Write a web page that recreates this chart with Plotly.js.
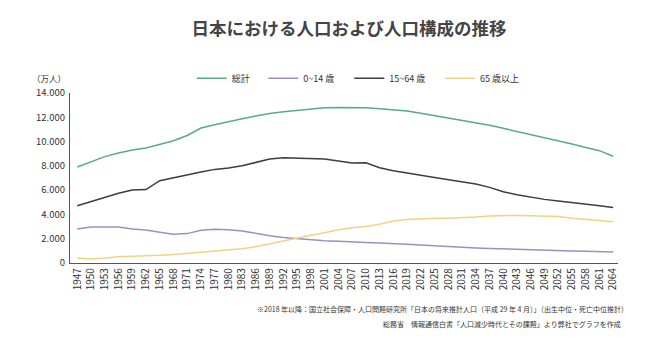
<!DOCTYPE html>
<html>
<head>
<meta charset="utf-8">
<script src="https://cdn.plot.ly/plotly-3.0.1.min.js"></script>
<style>
html,body{margin:0;padding:0;background:#fff;}
#chart{width:670px;height:350px;}
</style>
</head>
<body>
<div id="chart"></div>
<script>
var years = ["1947","1950","1953","1956","1959","1962","1965","1968","1971","1974",
             "1977","1980","1983","1986","1989","1992","1995","1998","2001","2004",
             "2007","2010","2013","2016","2019","2022","2025","2028","2031","2034",
             "2037","2040","2043","2046","2049","2052","2055","2058","2061","2064"];

var total = [7900, 8340, 8760, 9060, 9300, 9470, 9770, 10070, 10500, 11120,
             11390, 11660, 11880, 12100, 12320, 12460, 12570, 12680, 12790, 12810,
             12810, 12780, 12710, 12600, 12520, 12330, 12130, 11940, 11750, 11560,
             11340, 11090, 10840, 10570, 10320, 10050, 9800, 9520, 9250, 8790];

var age0_14 = [2800, 2965, 2965, 2965, 2800, 2720, 2530, 2360, 2420, 2690,
               2770, 2745, 2635, 2420, 2250, 2110, 2000, 1920, 1840, 1785,
               1710, 1690, 1650, 1620, 1550, 1480, 1410, 1345, 1290, 1235,
               1195, 1150, 1110, 1070, 1045, 1015, 985, 960, 935, 905];

var age15_64 = [4720, 5080, 5410, 5740, 6010, 6050, 6780, 7030, 7270, 7490,
                7710, 7820, 8010, 8260, 8560, 8670, 8650, 8620, 8560, 8400,
                8240, 8250, 7840, 7600, 7380, 7220, 7050, 6890, 6700, 6510,
                6230, 5870, 5630, 5410, 5240, 5100, 4990, 4860, 4720, 4580];

var age65 = [410, 330, 410, 520, 550, 580, 630, 710, 800, 880,
             960, 1070, 1180, 1340, 1590, 1810, 2060, 2280, 2500, 2740,
             2900, 3000, 3200, 3450, 3590, 3650, 3680, 3680, 3710, 3790,
             3870, 3920, 3920, 3900, 3870, 3820, 3680, 3570, 3460, 3400];

var seriesNames = ["総計", "0~14 歳", "15~64 歳", "65 歳以上"];
var seriesColors = ["#5aa98a", "#a48ac4", "#3d3d3d", "#f1d27f"];
var seriesData = [total, age0_14, age15_64, age65];
var legendIds = ["legend", "legend2", "legend3", "legend4"];
var legendX = [0.2221, 0.3527, 0.5097, 0.6752];

var FONT = "'Noto Sans CJK JP', 'Noto Sans', sans-serif";

var traces = seriesData.map(function(d, k){
  return {
    type: "scatter", mode: "lines",
    x: years, y: d, name: seriesNames[k],
    legend: legendIds[k],
    line: {color: seriesColors[k], width: 1.5},
    hoverinfo: "x+y+name"
  };
});

var layout = {
  width: 670, height: 350,
  margin: {l: 70, r: 52, t: 93, b: 87, pad: 0},
  paper_bgcolor: "#ffffff", plot_bgcolor: "#ffffff",
  separators: ",.",
  font: {family: FONT, color: "#333333", size: 10},
  title: {
    text: "日本における人口および人口構成の推移",
    font: {family: FONT, size: 17.5, color: "#444444", weight: "bold"},
    x: 0.521, xref: "container", xanchor: "center",
    y: 0.917, yref: "container", yanchor: "middle"
  },
  showlegend: true,
  xaxis: {
    type: "category",
    range: [-0.53, 39.35],
    showgrid: false, zeroline: false,
    showline: true, linecolor: "#555555", linewidth: 1.2,
    ticks: "", tickangle: -90,
    tickfont: {family: FONT, size: 10, color: "#333333"},
    fixedrange: true
  },
  yaxis: {
    range: [0, 14000],
    tickvals: [0, 2000, 4000, 6000, 8000, 10000, 12000, 14000],
    tickformat: ",d",
    showgrid: false, zeroline: false,
    showline: true, linecolor: "#555555", linewidth: 1.2,
    ticks: "", ticklabelstandoff: 2,
    tickfont: {family: FONT, size: 9.5, color: "#333333"},
    fixedrange: true
  },
  annotations: [
    {text: "（万人）", xref: "paper", yref: "paper", x: -0.004, y: 1.09,
     xanchor: "right", yanchor: "middle", showarrow: false,
     font: {family: FONT, size: 8.5, color: "#333333"}},
    {text: "※2018 年以降：国立社会保障・人口問題研究所「日本の将来推計人口（平成 29 年 4 月）」（出生中位・死亡中位推計）",
     xref: "paper", yref: "paper", x: 1.022, y: -0.27,
     xanchor: "right", yanchor: "middle", showarrow: false,
     font: {family: FONT, size: 7, color: "#333333"}},
    {text: "総務省　情報通信白書「人口減少時代とその課題」より弊社でグラフを作成",
     xref: "paper", yref: "paper", x: 1.01, y: -0.36,
     xanchor: "right", yanchor: "middle", showarrow: false,
     font: {family: FONT, size: 7, color: "#333333"}}
  ]
};

legendIds.forEach(function(id, k){
  layout[id] = {
    orientation: "h",
    x: legendX[k], xanchor: "left", xref: "paper",
    y: 1.087, yanchor: "middle", yref: "paper",
    font: {family: FONT, size: 9, color: "#333333"},
    itemwidth: 30,
    bgcolor: "rgba(0,0,0,0)"
  };
});

Plotly.newPlot("chart", traces, layout, {displayModeBar: false});
</script>
</body>
</html>
